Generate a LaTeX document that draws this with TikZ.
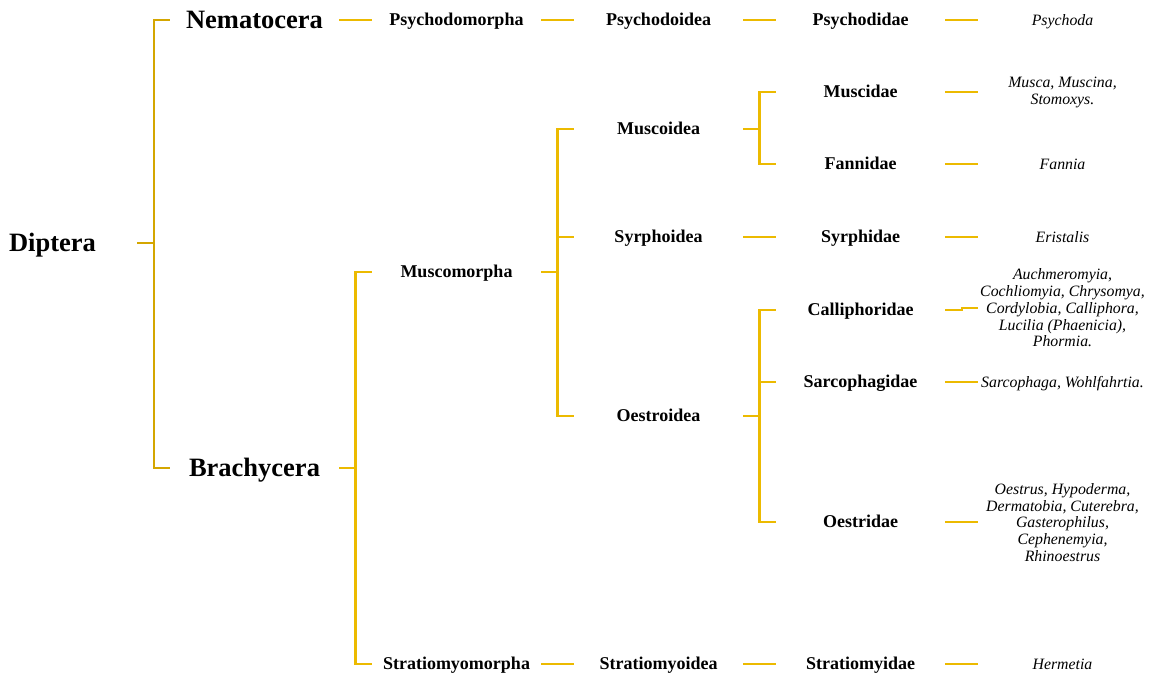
\documentclass[tikz,border=0pt]{standalone}
\usepackage{fontspec}
\setmainfont{Liberation Serif}
\definecolor{goldA}{RGB}{212,166,0}
\definecolor{goldB}{RGB}{236,186,0}
\begin{document}
\begin{tikzpicture}[x=1pt,y=-1pt,
  col/.style={minimum width=169pt, inner sep=0pt, outer sep=0pt, text height=11.9pt, text depth=0pt, font=\fontsize{18}{21}\selectfont\bfseries},
  big/.style={col, text height=17.5pt, font=\fontsize{26.5}{30}\selectfont\bfseries},
  gen/.style={minimum width=169pt, inner sep=0pt, outer sep=0pt, text height=10.4pt, text depth=0pt, font=\fontsize{15.8}{16.7}\selectfont\itshape},
  genm/.style={minimum width=169pt, inner sep=0pt, outer sep=0pt, align=center, font=\fontsize{15.8}{16.7}\selectfont\itshape},
  linkA/.style={draw=goldA, line width=2.9pt},
  link/.style={draw=goldB, line width=2.9pt}]
\useasboundingbox (0,0) rectangle (1155,674);
% column 0
\node[big] (dip) at (52.5,243) {Diptera};
% column 1
\node[big] (nem) at (254.5,20) {Nematocera};
\node[big] (bra) at (254.5,468) {Brachycera};
% column 2
\node[col] (psm) at (456.5,20) {Psychodomorpha};
\node[col] (mus) at (456.5,272) {Muscomorpha};
\node[col] (str) at (456.5,664) {Stratiomyomorpha};
% column 3
\node[col] (psd) at (658.5,20) {Psychodoidea};
\node[col] (muso) at (658.5,129) {Muscoidea};
\node[col] (syro) at (658.5,237) {Syrphoidea};
\node[col] (oeso) at (658.5,416) {Oestroidea};
\node[col] (strd) at (658.5,664) {Stratiomyoidea};
% column 4
\node[col] (psy) at (860.5,20) {Psychodidae};
\node[col] (musc) at (860.5,92) {Muscidae};
\node[col] (fan) at (860.5,164) {Fannidae};
\node[col] (syr) at (860.5,237) {Syrphidae};
\node[col] (cal) at (860.5,310) {Calliphoridae};
\node[col] (sar) at (860.5,382) {Sarcophagidae};
\node[col] (oes) at (860.5,522) {Oestridae};
\node[col] (stra) at (860.5,664) {Stratiomyidae};
% column 5
\node[gen] (psyg) at (1062.5,20) {Psychoda};
\node[genm] (muscg) at (1062.5,92.5) {Musca, Muscina,\\Stomoxys.};
\node[gen] (fang) at (1062.5,164) {Fannia};
\node[gen] (syrg) at (1062.5,237) {Eristalis};
\node[genm] (calg) at (1062.5,308) {Auchmeromyia,\\Cochliomyia, Chrysomya,\\Cordylobia, Calliphora,\\Lucilia (Phaenicia),\\Phormia.};
\node[gen] (sarg) at (1062.5,382) {Sarcophaga, Wohlfahrtia.};
\node[genm] (oesg) at (1062.5,522.5) {Oestrus, Hypoderma,\\Dermatobia, Cuterebra,\\Gasterophilus,\\Cephenemyia,\\Rhinoestrus};
\node[gen] (strag) at (1062.5,664) {Hermetia};
% brackets
\draw[linkA] (dip.east) -- ++(17,0) |- (nem.west);
\draw[linkA] (dip.east) -- ++(17,0) |- (bra.west);
\draw[link] (bra.east) -- ++(16.5,0) |- (mus.west);
\draw[link] (bra.east) -- ++(16.5,0) |- (str.west);
\draw[link] (mus.east) -- ++(16.5,0) |- (muso.west);
\draw[link] (mus.east) -- ++(16.5,0) |- (syro.west);
\draw[link] (mus.east) -- ++(16.5,0) |- (oeso.west);
\draw[link] (muso.east) -- ++(16.5,0) |- (musc.west);
\draw[link] (muso.east) -- ++(16.5,0) |- (fan.west);
\draw[link] (oeso.east) -- ++(16.5,0) |- (cal.west);
\draw[link] (oeso.east) -- ++(16.5,0) |- (sar.west);
\draw[link] (oeso.east) -- ++(16.5,0) |- (oes.west);
% straight links
\draw[link] (nem.east) -- (psm.west);
\draw[link] (psm.east) -- (psd.west);
\draw[link] (psd.east) -- (psy.west);
\draw[link] (syro.east) -- (syr.west);
\draw[link] (str.east) -- (strd.west);
\draw[link] (strd.east) -- (stra.west);
% family to genus
\draw[link] (psy.east) -- (psy.east -| psyg.west);
\draw[link] (musc.east) -- (musc.east -| muscg.west);
\draw[link] (fan.east) -- (fan.east -| fang.west);
\draw[link] (syr.east) -- (syr.east -| syrg.west);
\draw[link] (cal.east) -- ++(17,0) |- (calg.west);
\draw[link] (sar.east) -- (sar.east -| sarg.west);
\draw[link] (oes.east) -- (oes.east -| oesg.west);
\draw[link] (stra.east) -- (stra.east -| strag.west);
\end{tikzpicture}
\end{document}
